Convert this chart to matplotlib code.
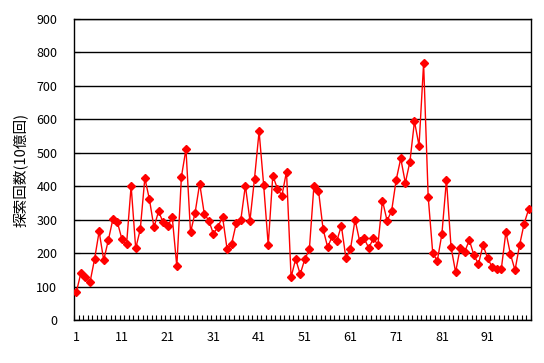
import matplotlib
matplotlib.use("Agg")
import matplotlib.pyplot as plt
import numpy as np

plt.rcParams['font.family'] = ['Noto Sans CJK JP', 'DejaVu Sans']

values = [
    83, 140, 128, 113, 182, 265, 179, 238, 301, 292,
    241, 226, 401, 214, 271, 424, 361, 277, 325, 292,
    281, 307, 160, 428, 511, 262, 321, 408, 318, 297,
    258, 278, 309, 212, 228, 289, 299, 402, 297, 423,
    564, 404, 224, 432, 393, 372, 444, 128, 182, 137,
    182, 211, 402, 387, 272, 218, 250, 236, 282, 185,
    212, 300, 236, 244, 215, 244, 225, 357, 297, 326,
    419, 483, 410, 473, 594, 521, 768, 369, 200, 177,
    257, 419, 218, 143, 215, 204, 239, 194, 167, 224,
    185, 158, 152, 152, 263, 197, 149, 224, 288, 332,
]
x = np.arange(1, len(values) + 1)
xtick_labels = [str(v) for v in range(1, 101, 10)]
ylabel = "探索回数(10億回)"

fig = plt.figure(figsize=(5.44, 3.63), dpi=100)
ax = fig.add_axes([74/544, 43/363, (531-74)/544, (320-19)/363])

ax.plot(x, values, color='#FF0000', lw=1.0, marker='D', markersize=4.5,
        markerfacecolor='#FF0000', markeredgecolor='#FF0000', zorder=3)

ax.set_xlim(0.5, len(values) + 0.5)
ax.set_ylim(0, 900)
ax.set_yticks(np.arange(0, 901, 100))
ax.yaxis.grid(True, color='black', lw=1.0)
ax.set_axisbelow(True)

# category boundary ticks
ax.set_xticks(np.arange(0.5, len(values) + 1, 1.0))
ax.set_xticklabels([])
ax.tick_params(axis='x', which='major', direction='in', length=3.5, width=0.8)
ax.set_xticks(np.arange(1, 101, 10), minor=True)
ax.set_xticklabels(xtick_labels, minor=True)
ax.tick_params(axis='x', which='minor', length=0, pad=8, labelsize=9)
ax.tick_params(axis='y', direction='in', length=4, pad=12, labelsize=9)

for s in ax.spines.values():
    s.set_color('black')
    s.set_linewidth(1.0)

ax.set_ylabel(ylabel, fontsize=10.5, labelpad=6)

fig.savefig("out.png", dpi=100)
